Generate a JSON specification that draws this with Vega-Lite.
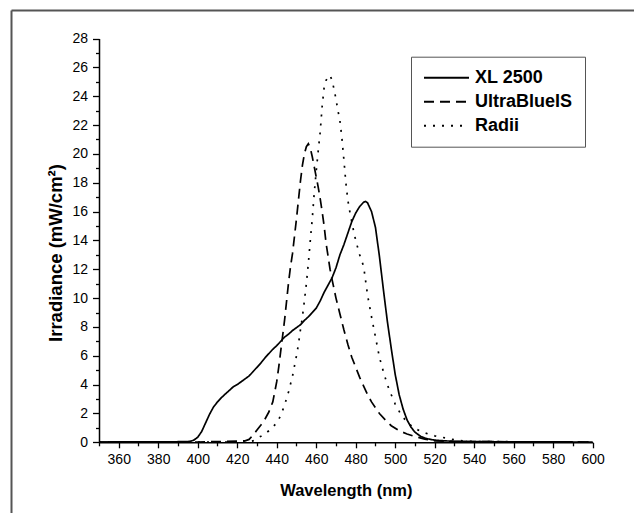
{
  "$schema": "https://vega.github.io/schema/vega-lite/v6.json",
  "width": 623,
  "height": 503,
  "autosize": {"type": "none"},
  "padding": {"left": 11, "top": 10, "right": 0, "bottom": 0},
  "background": "white",
  "config": {
    "view": {"stroke": null},
    "font": "Liberation Sans",
    "axis": {"grid": false, "domainColor": "black", "tickColor": "black", "labelColor": "black", "titleColor": "black", "domainWidth": 1.5, "tickWidth": 1.3}
  },
  "datasets": {
    "spectra": [
      {"wavelength": 350, "irradiance": 0.02, "source": "XL 2500"},
      {"wavelength": 370, "irradiance": 0.03, "source": "XL 2500"},
      {"wavelength": 390, "irradiance": 0.04, "source": "XL 2500"},
      {"wavelength": 396, "irradiance": 0.06, "source": "XL 2500"},
      {"wavelength": 398, "irradiance": 0.15, "source": "XL 2500"},
      {"wavelength": 400, "irradiance": 0.35, "source": "XL 2500"},
      {"wavelength": 402, "irradiance": 0.75, "source": "XL 2500"},
      {"wavelength": 404, "irradiance": 1.35, "source": "XL 2500"},
      {"wavelength": 406, "irradiance": 1.95, "source": "XL 2500"},
      {"wavelength": 408, "irradiance": 2.45, "source": "XL 2500"},
      {"wavelength": 410, "irradiance": 2.8, "source": "XL 2500"},
      {"wavelength": 412, "irradiance": 3.1, "source": "XL 2500"},
      {"wavelength": 414, "irradiance": 3.35, "source": "XL 2500"},
      {"wavelength": 416, "irradiance": 3.6, "source": "XL 2500"},
      {"wavelength": 418, "irradiance": 3.85, "source": "XL 2500"},
      {"wavelength": 420, "irradiance": 4.0, "source": "XL 2500"},
      {"wavelength": 422, "irradiance": 4.2, "source": "XL 2500"},
      {"wavelength": 424, "irradiance": 4.4, "source": "XL 2500"},
      {"wavelength": 426, "irradiance": 4.6, "source": "XL 2500"},
      {"wavelength": 428, "irradiance": 4.9, "source": "XL 2500"},
      {"wavelength": 430, "irradiance": 5.2, "source": "XL 2500"},
      {"wavelength": 432, "irradiance": 5.5, "source": "XL 2500"},
      {"wavelength": 434, "irradiance": 5.85, "source": "XL 2500"},
      {"wavelength": 436, "irradiance": 6.15, "source": "XL 2500"},
      {"wavelength": 438, "irradiance": 6.45, "source": "XL 2500"},
      {"wavelength": 440, "irradiance": 6.7, "source": "XL 2500"},
      {"wavelength": 442, "irradiance": 7.0, "source": "XL 2500"},
      {"wavelength": 444, "irradiance": 7.3, "source": "XL 2500"},
      {"wavelength": 446, "irradiance": 7.5, "source": "XL 2500"},
      {"wavelength": 448, "irradiance": 7.75, "source": "XL 2500"},
      {"wavelength": 450, "irradiance": 7.95, "source": "XL 2500"},
      {"wavelength": 452, "irradiance": 8.15, "source": "XL 2500"},
      {"wavelength": 454, "irradiance": 8.45, "source": "XL 2500"},
      {"wavelength": 456, "irradiance": 8.7, "source": "XL 2500"},
      {"wavelength": 458, "irradiance": 9.0, "source": "XL 2500"},
      {"wavelength": 460, "irradiance": 9.3, "source": "XL 2500"},
      {"wavelength": 462, "irradiance": 9.8, "source": "XL 2500"},
      {"wavelength": 464, "irradiance": 10.4, "source": "XL 2500"},
      {"wavelength": 466, "irradiance": 10.9, "source": "XL 2500"},
      {"wavelength": 468, "irradiance": 11.4, "source": "XL 2500"},
      {"wavelength": 470, "irradiance": 12.1, "source": "XL 2500"},
      {"wavelength": 472, "irradiance": 13.0, "source": "XL 2500"},
      {"wavelength": 474, "irradiance": 13.7, "source": "XL 2500"},
      {"wavelength": 476, "irradiance": 14.5, "source": "XL 2500"},
      {"wavelength": 478, "irradiance": 15.3, "source": "XL 2500"},
      {"wavelength": 480, "irradiance": 15.9, "source": "XL 2500"},
      {"wavelength": 482, "irradiance": 16.35, "source": "XL 2500"},
      {"wavelength": 484, "irradiance": 16.65, "source": "XL 2500"},
      {"wavelength": 485, "irradiance": 16.7, "source": "XL 2500"},
      {"wavelength": 486, "irradiance": 16.6, "source": "XL 2500"},
      {"wavelength": 488, "irradiance": 16.0, "source": "XL 2500"},
      {"wavelength": 490, "irradiance": 14.9, "source": "XL 2500"},
      {"wavelength": 492, "irradiance": 12.9, "source": "XL 2500"},
      {"wavelength": 494, "irradiance": 10.6, "source": "XL 2500"},
      {"wavelength": 496, "irradiance": 8.4, "source": "XL 2500"},
      {"wavelength": 498, "irradiance": 6.5, "source": "XL 2500"},
      {"wavelength": 500, "irradiance": 4.7, "source": "XL 2500"},
      {"wavelength": 502, "irradiance": 3.3, "source": "XL 2500"},
      {"wavelength": 504, "irradiance": 2.3, "source": "XL 2500"},
      {"wavelength": 506, "irradiance": 1.55, "source": "XL 2500"},
      {"wavelength": 508, "irradiance": 1.05, "source": "XL 2500"},
      {"wavelength": 510, "irradiance": 0.7, "source": "XL 2500"},
      {"wavelength": 513, "irradiance": 0.4, "source": "XL 2500"},
      {"wavelength": 516, "irradiance": 0.25, "source": "XL 2500"},
      {"wavelength": 520, "irradiance": 0.15, "source": "XL 2500"},
      {"wavelength": 525, "irradiance": 0.1, "source": "XL 2500"},
      {"wavelength": 530, "irradiance": 0.07, "source": "XL 2500"},
      {"wavelength": 540, "irradiance": 0.05, "source": "XL 2500"},
      {"wavelength": 560, "irradiance": 0.03, "source": "XL 2500"},
      {"wavelength": 600, "irradiance": 0.02, "source": "XL 2500"},

      {"wavelength": 350, "irradiance": 0.02, "source": "UltraBlueIS"},
      {"wavelength": 400, "irradiance": 0.02, "source": "UltraBlueIS"},
      {"wavelength": 420, "irradiance": 0.08, "source": "UltraBlueIS"},
      {"wavelength": 424, "irradiance": 0.1, "source": "UltraBlueIS"},
      {"wavelength": 426, "irradiance": 0.2, "source": "UltraBlueIS"},
      {"wavelength": 428, "irradiance": 0.5, "source": "UltraBlueIS"},
      {"wavelength": 430, "irradiance": 0.85, "source": "UltraBlueIS"},
      {"wavelength": 432, "irradiance": 1.2, "source": "UltraBlueIS"},
      {"wavelength": 434, "irradiance": 1.6, "source": "UltraBlueIS"},
      {"wavelength": 436, "irradiance": 2.1, "source": "UltraBlueIS"},
      {"wavelength": 438, "irradiance": 2.8, "source": "UltraBlueIS"},
      {"wavelength": 440, "irradiance": 4.2, "source": "UltraBlueIS"},
      {"wavelength": 441, "irradiance": 5.2, "source": "UltraBlueIS"},
      {"wavelength": 442, "irradiance": 6.3, "source": "UltraBlueIS"},
      {"wavelength": 443, "irradiance": 7.4, "source": "UltraBlueIS"},
      {"wavelength": 444, "irradiance": 8.5, "source": "UltraBlueIS"},
      {"wavelength": 445, "irradiance": 9.8, "source": "UltraBlueIS"},
      {"wavelength": 446, "irradiance": 11.1, "source": "UltraBlueIS"},
      {"wavelength": 447, "irradiance": 12.2, "source": "UltraBlueIS"},
      {"wavelength": 448, "irradiance": 13.1, "source": "UltraBlueIS"},
      {"wavelength": 449, "irradiance": 14.3, "source": "UltraBlueIS"},
      {"wavelength": 450, "irradiance": 15.5, "source": "UltraBlueIS"},
      {"wavelength": 451, "irradiance": 16.8, "source": "UltraBlueIS"},
      {"wavelength": 452, "irradiance": 18.1, "source": "UltraBlueIS"},
      {"wavelength": 453, "irradiance": 19.2, "source": "UltraBlueIS"},
      {"wavelength": 454, "irradiance": 20.0, "source": "UltraBlueIS"},
      {"wavelength": 455, "irradiance": 20.5, "source": "UltraBlueIS"},
      {"wavelength": 456, "irradiance": 20.7, "source": "UltraBlueIS"},
      {"wavelength": 457, "irradiance": 20.4, "source": "UltraBlueIS"},
      {"wavelength": 458, "irradiance": 19.8, "source": "UltraBlueIS"},
      {"wavelength": 459, "irradiance": 19.1, "source": "UltraBlueIS"},
      {"wavelength": 460, "irradiance": 18.4, "source": "UltraBlueIS"},
      {"wavelength": 461, "irradiance": 17.7, "source": "UltraBlueIS"},
      {"wavelength": 462, "irradiance": 16.9, "source": "UltraBlueIS"},
      {"wavelength": 463, "irradiance": 16.0, "source": "UltraBlueIS"},
      {"wavelength": 464, "irradiance": 15.0, "source": "UltraBlueIS"},
      {"wavelength": 465, "irradiance": 13.8, "source": "UltraBlueIS"},
      {"wavelength": 466, "irradiance": 12.9, "source": "UltraBlueIS"},
      {"wavelength": 467, "irradiance": 12.0, "source": "UltraBlueIS"},
      {"wavelength": 468, "irradiance": 11.3, "source": "UltraBlueIS"},
      {"wavelength": 470, "irradiance": 10.0, "source": "UltraBlueIS"},
      {"wavelength": 472, "irradiance": 8.9, "source": "UltraBlueIS"},
      {"wavelength": 474, "irradiance": 7.8, "source": "UltraBlueIS"},
      {"wavelength": 476, "irradiance": 6.8, "source": "UltraBlueIS"},
      {"wavelength": 478, "irradiance": 5.9, "source": "UltraBlueIS"},
      {"wavelength": 480, "irradiance": 5.2, "source": "UltraBlueIS"},
      {"wavelength": 482, "irradiance": 4.5, "source": "UltraBlueIS"},
      {"wavelength": 484, "irradiance": 3.9, "source": "UltraBlueIS"},
      {"wavelength": 486, "irradiance": 3.3, "source": "UltraBlueIS"},
      {"wavelength": 488, "irradiance": 2.8, "source": "UltraBlueIS"},
      {"wavelength": 490, "irradiance": 2.4, "source": "UltraBlueIS"},
      {"wavelength": 492, "irradiance": 2.0, "source": "UltraBlueIS"},
      {"wavelength": 495, "irradiance": 1.55, "source": "UltraBlueIS"},
      {"wavelength": 498, "irradiance": 1.15, "source": "UltraBlueIS"},
      {"wavelength": 502, "irradiance": 0.8, "source": "UltraBlueIS"},
      {"wavelength": 506, "irradiance": 0.58, "source": "UltraBlueIS"},
      {"wavelength": 510, "irradiance": 0.4, "source": "UltraBlueIS"},
      {"wavelength": 515, "irradiance": 0.22, "source": "UltraBlueIS"},
      {"wavelength": 520, "irradiance": 0.1, "source": "UltraBlueIS"},
      {"wavelength": 530, "irradiance": 0.05, "source": "UltraBlueIS"},
      {"wavelength": 600, "irradiance": 0.02, "source": "UltraBlueIS"},

      {"wavelength": 350, "irradiance": 0.02, "source": "Radii"},
      {"wavelength": 425, "irradiance": 0.02, "source": "Radii"},
      {"wavelength": 428, "irradiance": 0.1, "source": "Radii"},
      {"wavelength": 430, "irradiance": 0.28, "source": "Radii"},
      {"wavelength": 432, "irradiance": 0.42, "source": "Radii"},
      {"wavelength": 434, "irradiance": 0.58, "source": "Radii"},
      {"wavelength": 436, "irradiance": 0.8, "source": "Radii"},
      {"wavelength": 438, "irradiance": 1.05, "source": "Radii"},
      {"wavelength": 440, "irradiance": 1.35, "source": "Radii"},
      {"wavelength": 442, "irradiance": 1.85, "source": "Radii"},
      {"wavelength": 444, "irradiance": 2.6, "source": "Radii"},
      {"wavelength": 446, "irradiance": 3.5, "source": "Radii"},
      {"wavelength": 448, "irradiance": 4.6, "source": "Radii"},
      {"wavelength": 450, "irradiance": 6.0, "source": "Radii"},
      {"wavelength": 451, "irradiance": 6.8, "source": "Radii"},
      {"wavelength": 452, "irradiance": 7.8, "source": "Radii"},
      {"wavelength": 453, "irradiance": 8.7, "source": "Radii"},
      {"wavelength": 454, "irradiance": 9.8, "source": "Radii"},
      {"wavelength": 455, "irradiance": 11.0, "source": "Radii"},
      {"wavelength": 456, "irradiance": 12.4, "source": "Radii"},
      {"wavelength": 457, "irradiance": 14.0, "source": "Radii"},
      {"wavelength": 458, "irradiance": 15.5, "source": "Radii"},
      {"wavelength": 459, "irradiance": 17.3, "source": "Radii"},
      {"wavelength": 460, "irradiance": 18.8, "source": "Radii"},
      {"wavelength": 461, "irradiance": 20.2, "source": "Radii"},
      {"wavelength": 462, "irradiance": 21.5, "source": "Radii"},
      {"wavelength": 463, "irradiance": 23.3, "source": "Radii"},
      {"wavelength": 464, "irradiance": 24.6, "source": "Radii"},
      {"wavelength": 465, "irradiance": 25.1, "source": "Radii"},
      {"wavelength": 466, "irradiance": 25.35, "source": "Radii"},
      {"wavelength": 467, "irradiance": 25.45, "source": "Radii"},
      {"wavelength": 468, "irradiance": 25.1, "source": "Radii"},
      {"wavelength": 469, "irradiance": 24.5, "source": "Radii"},
      {"wavelength": 470, "irradiance": 23.8, "source": "Radii"},
      {"wavelength": 471, "irradiance": 23.0, "source": "Radii"},
      {"wavelength": 472, "irradiance": 22.3, "source": "Radii"},
      {"wavelength": 473, "irradiance": 21.1, "source": "Radii"},
      {"wavelength": 474, "irradiance": 19.6, "source": "Radii"},
      {"wavelength": 475, "irradiance": 18.0, "source": "Radii"},
      {"wavelength": 476, "irradiance": 16.8, "source": "Radii"},
      {"wavelength": 477, "irradiance": 16.0, "source": "Radii"},
      {"wavelength": 478, "irradiance": 15.3, "source": "Radii"},
      {"wavelength": 479, "irradiance": 14.6, "source": "Radii"},
      {"wavelength": 480, "irradiance": 14.0, "source": "Radii"},
      {"wavelength": 482, "irradiance": 13.0, "source": "Radii"},
      {"wavelength": 484, "irradiance": 12.2, "source": "Radii"},
      {"wavelength": 485, "irradiance": 11.2, "source": "Radii"},
      {"wavelength": 486, "irradiance": 10.2, "source": "Radii"},
      {"wavelength": 488, "irradiance": 8.7, "source": "Radii"},
      {"wavelength": 490, "irradiance": 7.3, "source": "Radii"},
      {"wavelength": 492, "irradiance": 5.9, "source": "Radii"},
      {"wavelength": 494, "irradiance": 4.9, "source": "Radii"},
      {"wavelength": 496, "irradiance": 4.0, "source": "Radii"},
      {"wavelength": 498, "irradiance": 3.3, "source": "Radii"},
      {"wavelength": 500, "irradiance": 2.65, "source": "Radii"},
      {"wavelength": 503, "irradiance": 1.9, "source": "Radii"},
      {"wavelength": 506, "irradiance": 1.4, "source": "Radii"},
      {"wavelength": 510, "irradiance": 0.95, "source": "Radii"},
      {"wavelength": 515, "irradiance": 0.65, "source": "Radii"},
      {"wavelength": 520, "irradiance": 0.45, "source": "Radii"},
      {"wavelength": 526, "irradiance": 0.28, "source": "Radii"},
      {"wavelength": 532, "irradiance": 0.12, "source": "Radii"},
      {"wavelength": 540, "irradiance": 0.05, "source": "Radii"},
      {"wavelength": 600, "irradiance": 0.02, "source": "Radii"}
    ]
  },
  "data": {"name": "spectra"},
  "layer": [
    {
      "mark": {"type": "line", "strokeOpacity": 0},
      "encoding": {
        "x": {
          "field": "wavelength", "type": "quantitative",
          "scale": {"domain": [350, 600], "range": [0, 700], "nice": false, "zero": false},
          "axis": {"orient": "top", "offset": 0, "domainColor": "#555555", "domainWidth": 2, "ticks": false, "labels": false, "title": null}
        },
        "y": {
          "field": "irradiance", "type": "quantitative",
          "scale": {"domain": [0, 28], "range": [600, 0], "nice": false},
          "axis": {"orient": "left", "offset": 0, "domainColor": "#555555", "domainWidth": 2, "ticks": false, "labels": false, "title": null}
        },
        "detail": {"field": "source", "type": "nominal"}
      }
    },
    {
      "mark": {"type": "line", "color": "black", "strokeWidth": 1.7},
      "encoding": {
        "x": {
          "field": "wavelength", "type": "quantitative",
          "scale": {"domain": [350, 600], "range": [88, 581.7], "nice": false, "zero": false},
          "axis": {
            "orient": "bottom", "offset": -70.7,
            "values": [360, 380, 400, 420, 440, 460, 480, 500, 520, 540, 560, 580, 600],
            "tickSize": 5.5, "labelPadding": 5, "labelFontSize": 14, "labelFlush": false, "labelOverlap": false,
            "title": "Wavelength (nm)", "titleFontSize": 16.5, "titleFontWeight": "bold", "titlePadding": 16
          }
        },
        "y": {
          "field": "irradiance", "type": "quantitative",
          "scale": {"domain": [0, 28], "range": [432.3, 28.5], "nice": false},
          "axis": {
            "orient": "left", "offset": -88,
            "values": [0, 2, 4, 6, 8, 10, 12, 14, 16, 18, 20, 22, 24, 26, 28],
            "tickSize": 6.5, "labelPadding": 5, "labelFontSize": 14, "labelFlush": false, "labelOverlap": false,
            "title": "Irradiance (mW/cm²)", "titleFontSize": 18.5, "titleFontWeight": "bold", "titlePadding": 6, "titleY": 242.5
          }
        },
        "strokeDash": {
          "field": "source", "type": "nominal",
          "scale": {"domain": ["XL 2500", "UltraBlueIS", "Radii"], "range": [[1, 0], [10, 6], [2, 7]]},
          "legend": {
            "title": null, "orient": "none", "legendX": 400, "legendY": 46.7,
            "strokeColor": "#555555", "padding": 12, "fillColor": "white",
            "symbolType": "stroke", "symbolSize": 2025, "symbolStrokeWidth": 2, "symbolStrokeColor": "black",
            "labelFontSize": 18, "labelFontWeight": "bold", "labelColor": "black", "labelOffset": 5, "labelLimit": 300,
            "rowPadding": 6, "clipHeight": 18
          }
        }
      }
    },
    {
      "mark": {"type": "line", "strokeOpacity": 0},
      "encoding": {
        "x": {
          "field": "wavelength", "type": "quantitative",
          "scale": {"domain": [350, 600], "range": [88, 581.7], "nice": false, "zero": false},
          "axis": {
            "orient": "bottom", "offset": -70.7,
            "values": [350, 370, 390, 410, 430, 450, 470, 490, 510, 530, 550, 570, 590],
            "tickSize": 3.5, "labels": false, "domain": false, "title": null
          }
        },
        "y": {
          "field": "irradiance", "type": "quantitative",
          "scale": {"domain": [0, 28], "range": [432.3, 28.5], "nice": false},
          "axis": {
            "orient": "left", "offset": -88,
            "values": [1, 3, 5, 7, 9, 11, 13, 15, 17, 19, 21, 23, 25, 27],
            "tickSize": 3.5, "labels": false, "domain": false, "title": null
          }
        },
        "detail": {"field": "source", "type": "nominal"}
      }
    }
  ],
  "resolve": {
    "scale": {"x": "independent", "y": "independent"},
    "axis": {"x": "independent", "y": "independent"}
  }
}
